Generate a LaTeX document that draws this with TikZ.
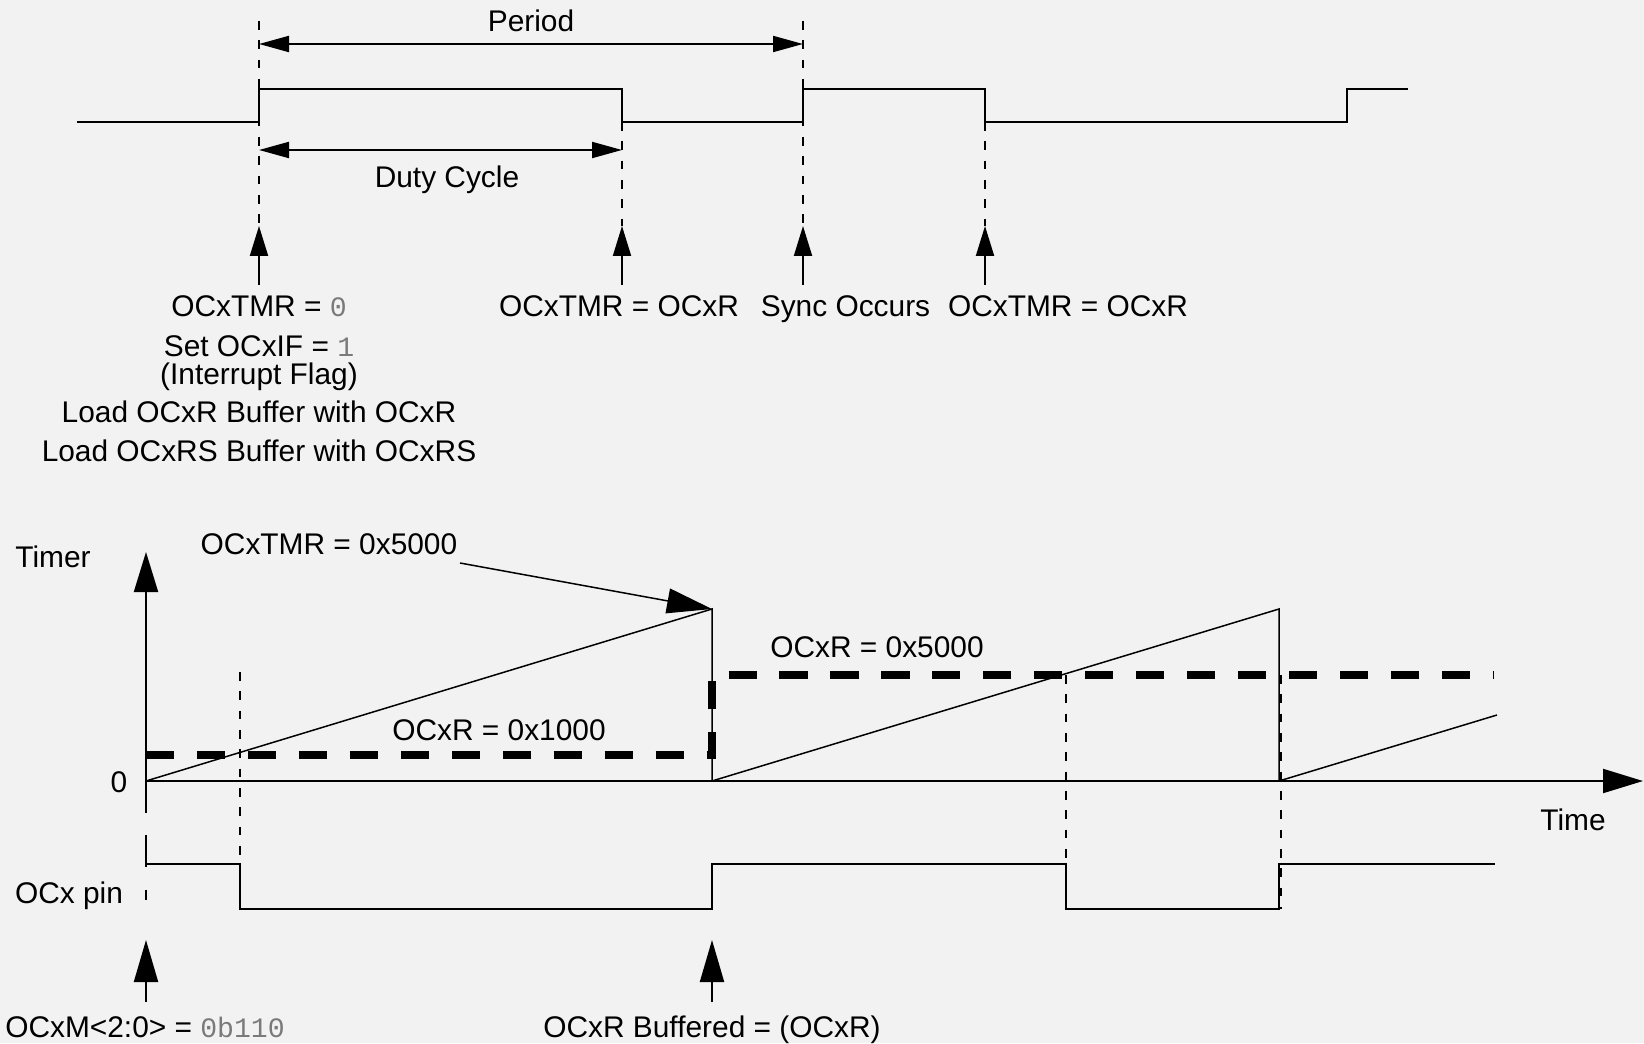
\documentclass[tikz,border=0pt]{standalone}
\usepackage{fontspec}
\setmainfont{Liberation Sans}
\setmonofont{Liberation Mono}
\usepackage{tikz}
\usetikzlibrary{arrows.meta,positioning}
\definecolor{paper}{HTML}{F2F2F2}
\definecolor{valgray}{HTML}{7A7A7A}
\newcommand{\regval}[1]{{\ttfamily\fontsize{16}{20}\selectfont\color{valgray}#1}}

\begin{document}
\begin{tikzpicture}

\tikzset{
  lbl/.style={font=\fontsize{17}{20}\selectfont, inner sep=0pt,
              text height=12pt, text depth=3.5pt},
  sig/.style={black, line width=1.15pt},
  ramp/.style={black, line width=0.85pt},
  guide/.style={black, line width=1pt, dash pattern=on 5pt off 6pt},
  longguide/.style={black, line width=1pt, dash pattern=on 18pt off 13pt},
  cmpline/.style={black, line width=4.5pt, dash pattern=on 16pt off 13pt},
  span/.style={line width=1.15pt,
               {Triangle[length=0.6cm,width=0.32cm]}-{Triangle[length=0.6cm,width=0.32cm]}},
  event/.style={line width=1.15pt, -{Triangle[length=0.6cm,width=0.36cm]}},
  bigevent/.style={line width=1.15pt, -{Triangle[length=0.84cm,width=0.48cm]}},
  axis/.style={line width=1.15pt, -{Triangle[length=0.8cm,width=0.48cm]}},
  leader/.style={line width=0.85pt, -{Triangle[length=0.9cm,width=0.5cm]}}
}

% Background and size
\fill[paper] (0,0) rectangle (32.88,20.86);
\useasboundingbox (0,0) rectangle (32.88,20.86);

% ---------------- Upper waveform ----------------
\draw[sig] (1.54,18.42) -- (5.18,18.42) -- (5.18,19.08) -- (12.44,19.08)
  -- (12.44,18.42) -- (16.06,18.42) -- (16.06,19.08) -- (19.70,19.08)
  -- (19.70,18.42) -- (26.94,18.42) -- (26.94,19.08) -- (28.16,19.08);

% Event points
\coordinate (tipA) at (5.18,16.34);
\coordinate (tipB) at (12.44,16.34);
\coordinate (tipC) at (16.06,16.34);
\coordinate (tipD) at (19.70,16.34);
\coordinate (footA) at (5.18,15.16);
\coordinate (footB) at (12.44,15.16);
\coordinate (footC) at (16.06,15.16);
\coordinate (footD) at (19.70,15.16);

% Guides
\draw[guide] (5.18,20.44) -- (tipA);
\draw[guide] (16.06,20.44) -- (tipC);
\draw[guide] (12.44,18.42) -- (tipB);
\draw[guide] (19.70,18.42) -- (tipD);

% Period and duty cycle
\coordinate (perL) at (5.18,19.98);
\coordinate (perR) at (16.06,19.98);
\coordinate (dutL) at (5.18,17.86);
\coordinate (dutR) at (12.44,17.86);
\draw[span] (perL) -- (perR);
\draw[span] (dutL) -- (dutR);
\node[lbl] (period) at (10.62,20.38) {Period};
\node[lbl] (duty) at (8.94,17.26) {Duty Cycle};

% Event arrows
\draw[event] (footA) -- (tipA);
\draw[event] (footB) -- (tipB);
\draw[event] (footC) -- (tipC);
\draw[event] (footD) -- (tipD);

% Event labels
\node[lbl] (evA) at (5.18,14.68) {OCxTMR = \regval{0}};
\node[lbl] (evA2) at (5.18,13.88) {Set OCxIF = \regval{1}};
\node[lbl] (evA3) at (5.18,13.32) {(Interrupt Flag)};
\node[lbl] (evA4) at (5.18,12.56) {Load OCxR Buffer with OCxR};
\node[lbl] (evA5) at (5.18,11.78) {Load OCxRS Buffer with OCxRS};
\node[lbl] (evB) at (12.38,14.68) {OCxTMR = OCxR};
\node[lbl] (evC) at (16.91,14.68) {Sync Occurs};
\node[lbl] (evD) at (21.36,14.68) {OCxTMR = OCxR};

% ---------------- Timer plot ----------------
\coordinate (orig) at (2.92,5.24);
\coordinate (ytop) at (2.92,9.82);
\coordinate (xend) at (32.86,5.24);
\draw[axis] (orig) -- (ytop);
\draw[axis] (orig) -- (xend);

\node[lbl] (timer) at (1.06,9.66) {Timer};
\node[lbl] (zero) at (2.38,5.16) {0};
\node[lbl] (time) at (31.46,4.40) {Time};

% Ramps
\coordinate (peak1) at (14.24,8.68);
\coordinate (peak2) at (25.58,8.68);
\draw[ramp] (orig) -- (peak1) -- (14.24,5.24) -- (peak2) -- (25.58,5.24) -- (29.94,6.56);

% Compare values
\draw[cmpline] (2.92,5.76) -- (14.24,5.76) -- (14.24,7.36) -- (29.86,7.36);
\node[lbl] (cmp1) at (9.98,6.20) {OCxR = 0x1000};
\node[lbl] (cmp2) at (17.54,7.86) {OCxR = 0x5000};

% Peak label
\node[lbl] (peaklbl) at (6.58,9.92) {OCxTMR = 0x5000};
\coordinate (leadS) at (9.20,9.60);
\draw[leader] (leadS) -- (peak1);

% Guides to the pin
\draw[longguide] (orig) -- (2.92,2.86);
\draw[guide] (4.80,7.42) -- (4.80,3.58);
\draw[guide] (21.32,7.36) -- (21.32,3.58);
\draw[guide] (25.62,7.36) -- (25.62,2.68);

% OCx pin
\draw[sig] (2.92,3.58) -- (4.80,3.58) -- (4.80,2.68) -- (14.24,2.68)
  -- (14.24,3.58) -- (21.32,3.58) -- (21.32,2.68) -- (25.58,2.68)
  -- (25.58,3.58) -- (29.90,3.58);
\node[lbl] (pin) at (1.38,2.94) {OCx pin};

% Bottom events
\coordinate (footE) at (2.92,0.82);
\coordinate (tipE) at (2.92,2.06);
\coordinate (footF) at (14.24,0.82);
\coordinate (tipF) at (14.24,2.06);
\draw[bigevent] (footE) -- (tipE);
\draw[bigevent] (footF) -- (tipF);
\node[lbl] (mode) at (2.90,0.26) {OCxM<2:0> = \regval{0b110}};
\node[lbl] (buf) at (14.24,0.26) {OCxR Buffered = (OCxR)};

\end{tikzpicture}
\end{document}
